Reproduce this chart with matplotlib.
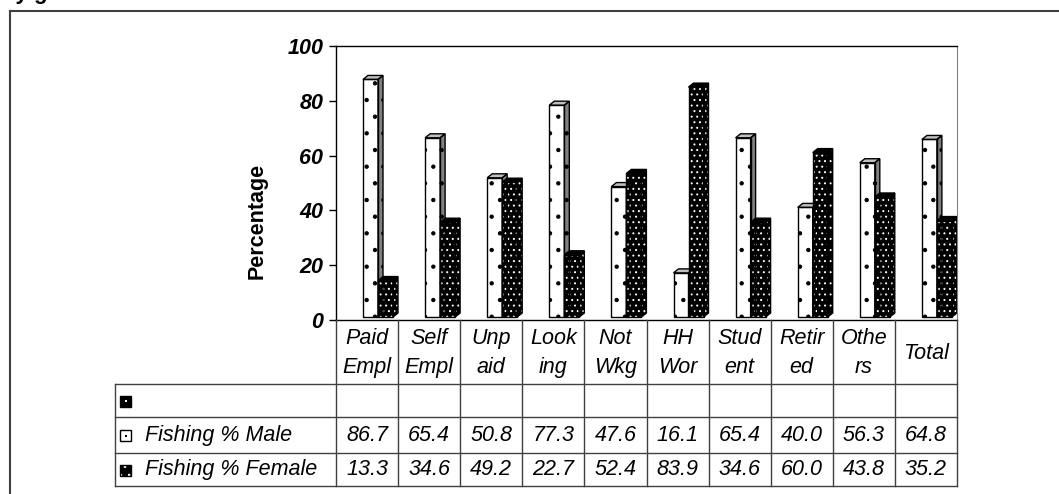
import numpy as np
import matplotlib
matplotlib.use("Agg")
import matplotlib.pyplot as plt
from matplotlib.patches import Polygon, Rectangle

plt.rcParams['font.family'] = ['Liberation Sans', 'DejaVu Sans']
plt.rcParams['hatch.linewidth'] = 0.7

# data
categories = ["Paid\nEmpl", "Self\nEmpl", "Unp\naid", "Look\ning", "Not\nWkg",
              "HH\nWor", "Stud\nent", "Retir\ned", "Othe\nrs", "Total"]
male = [86.7, 65.4, 50.8, 77.3, 47.6, 16.1, 65.4, 40.0, 56.3, 64.8]
female = [13.3, 34.6, 49.2, 22.7, 52.4, 83.9, 34.6, 60.0, 43.8, 35.2]
series_names = ["", "Fishing % Male", "Fishing % Female"]
yticks = [0, 20, 40, 60, 80, 100]

W, H = 1059, 494
fig = plt.figure(figsize=(W / 100, H / 100), dpi=100)

# plot area in pixels
L, R, T, B = 336, 957, 46, 320
ax = fig.add_axes([L / W, 1 - B / H, (R - L) / W, (B - T) / H])
ax.set_xlim(0, len(categories))
ax.set_ylim(0, 100)
ax.set_yticks(yticks)
ax.set_yticklabels([str(v) for v in yticks], fontsize=15.5, fontweight='bold', fontstyle='italic')
ax.set_xticks([])
ax.tick_params(axis='y', direction='out', length=5, width=1, pad=4)
for s in ['left', 'top', 'bottom']:
    ax.spines[s].set_color('black')
    ax.spines[s].set_linewidth(1)
ax.spines['right'].set_color('#808080')

colw = (R - L) / len(categories)
dx = 5 / colw            # depth in data units (x)
dy = 4 / (B - T) * 100   # depth in data units (y)
base = 3 / (B - T) * 100
bw = 15 / colw
off = 27 / colw


def bar3d(x0, h, front, side, top, hatch, dotcol):
    y0, y1 = base, base + h
    faces = [
        ([(x0, y0), (x0 + bw, y0), (x0 + bw, y1), (x0, y1)], front),
        ([(x0 + bw, y0), (x0 + bw + dx, y0 + dy), (x0 + bw + dx, y1 + dy), (x0 + bw, y1)], side),
        ([(x0, y1), (x0 + bw, y1), (x0 + bw + dx, y1 + dy), (x0 + dx, y1 + dy)], top),
    ]
    for i, (pts, fc) in enumerate(faces):
        ax.add_patch(Polygon(pts, closed=True, facecolor=fc, edgecolor=dotcol,
                             hatch=hatch if i < 2 else None, lw=0, zorder=3))
        ax.add_patch(Polygon(pts, closed=True, fill=False, edgecolor='black', lw=1, zorder=4))


for i in range(len(categories)):
    bar3d(i + off, male[i], 'white', '#808080', '#c0c0c0', '.', 'black')
    bar3d(i + off + bw, female[i], 'black', 'black', 'black', '...', 'white')

fig.text(257 / W, 1 - 221 / H, "Percentage", rotation=90, fontsize=15.5,
         fontweight='bold', ha='center', va='center')

# data table drawn in pixel coordinates
axt = fig.add_axes([0, 0, 1, 1])
axt.set_xlim(0, W)
axt.set_ylim(H, 0)
axt.axis('off')

tl = 115
rows = [384, 417, 453, 486]
lc = '#404040'
edges = [L + k * colw for k in range(len(categories) + 1)]
for k, xe in enumerate(edges):
    axt.plot([xe, xe], [B, rows[-1]], color=lc, lw=1)
axt.plot([tl, tl], [rows[0], rows[-1]], color=lc, lw=1)
for yr in rows:
    axt.plot([tl, R], [yr, yr], color=lc, lw=1)

for k, lab in enumerate(categories):
    axt.text(L + (k + 0.5) * colw, (B + rows[0]) / 2 + 1, lab, ha='center', va='center',
             fontsize=15.5, fontstyle='italic', linespacing=1.45)

for k in range(len(categories)):
    xc = L + (k + 0.5) * colw
    axt.text(xc, (rows[1] + rows[2]) / 2, f"{male[k]:.1f}", ha='center', va='center',
             fontsize=15.5, fontstyle='italic')
    axt.text(xc, (rows[2] + rows[3]) / 2, f"{female[k]:.1f}", ha='center', va='center',
             fontsize=15.5, fontstyle='italic')

# legend keys in the row headers
key_styles = [('black', None, 'white'), ('white', None, 'black'), ('black', '..', 'white')]
for r, (name, (fc, hh, dc)) in enumerate(zip(series_names, key_styles)):
    yc = (rows[r] + rows[r + 1]) / 2
    axt.add_patch(Rectangle((120, yc - 5), 11, 11, facecolor=fc, edgecolor=dc, hatch=hh, lw=0))
    axt.add_patch(Rectangle((120, yc - 5), 11, 11, fill=False, edgecolor='black', lw=1))
    if r < 2:
        axt.plot([125.5], [yc + 0.5], marker='s', ms=1.5, color=dc, mew=0)
    axt.text(145, yc, name, ha='left', va='center', fontsize=15.5, fontstyle='italic')

# outer chart frame
axt.plot([10, 10], [11, H], color='#404040', lw=1.5)
axt.plot([10, W], [11, 11], color='#404040', lw=1.5)

# cut-off title above the frame
fig.text(2 / W, 1 + 1 / H, "by gender", fontsize=16, fontweight='bold', ha='left', va='baseline')

fig.savefig("out.png", dpi=100)
